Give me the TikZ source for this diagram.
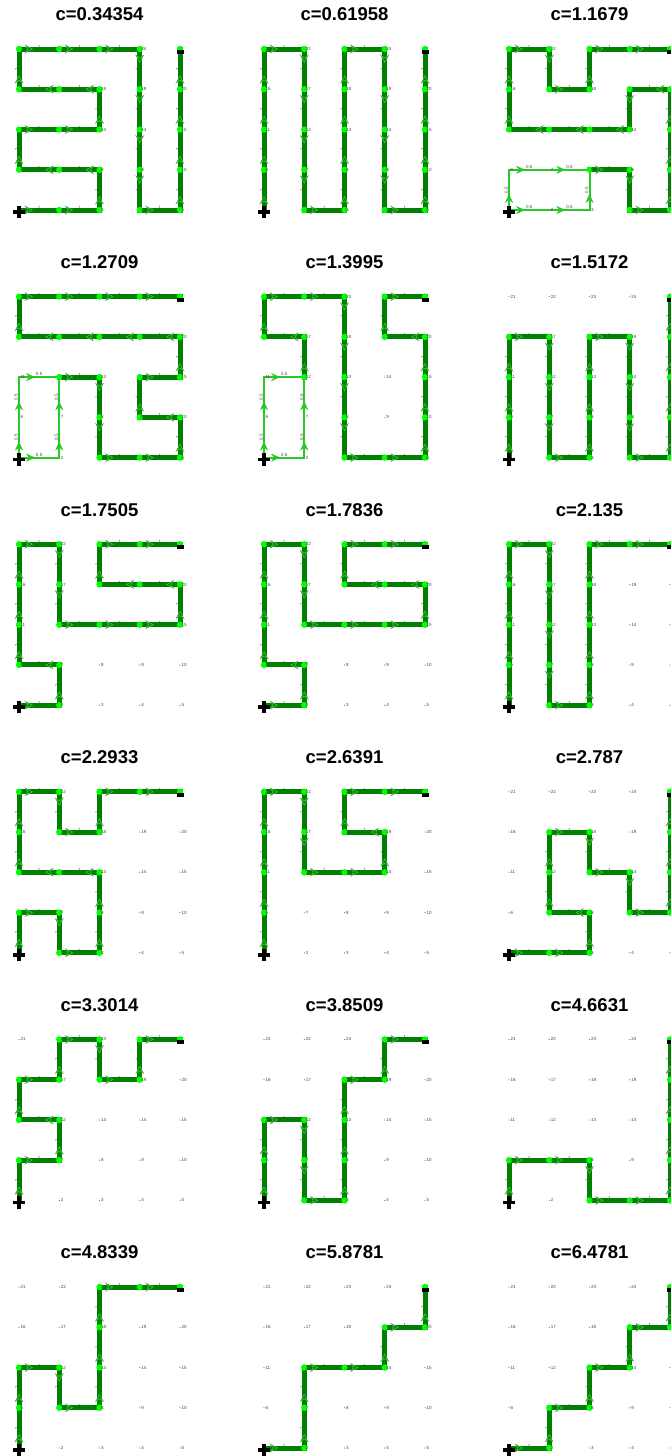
\documentclass[tikz,border=0pt]{standalone}
\usepackage{fontspec}
\setmainfont{Liberation Sans}
\usetikzlibrary{arrows.meta,decorations.markings}
\definecolor{PathDark}{RGB}{0,128,0}
\definecolor{PathHalf}{RGB}{40,200,40}
\definecolor{NodeLime}{RGB}{0,255,0}
\definecolor{TipEdge}{RGB}{60,190,60}
\definecolor{LabelGray}{RGB}{70,70,70}

% one 5x5 grid: #1 id, #2 column, #3 row, #4 title, #5 unit path, #6 half edges
\newcommand{\flowpanel}[6]{%
  \pgfmathsetmacro\panx{19+245*#2}
  \pgfmathsetmacro\pany{210+247.6*#3}
  \foreach \n in {1,...,25}{
    \pgfmathtruncatemacro\ci{mod(\n-1,5)}
    \pgfmathtruncatemacro\rj{div(\n-1,5)}
    \coordinate (g#1-\n) at (\panx+40.25*\ci, \pany-40.25*\rj);
    \fill[LabelGray!70] (g#1-\n) circle[radius=0.6pt];
  }
  % half flow
  \if\relax\detokenize{#6}\relax\else
  \foreach \a/\b in {#6}{
    \pgfmathtruncatemacro\dv{abs(\b-\a)==5}
    \draw[halfflow] (g#1-\a) -- node[elab, xshift=-2.8pt*\dv, yshift=2.8pt*(1-\dv), rotate=90*\dv] {0.5} (g#1-\b);
  }\fi
  % unit flow
  \foreach \b [count=\k, remember=\b as \a (initially 0)] in {#5}{
    \ifnum\k>1
      \pgfmathtruncatemacro\dv{abs(\b-\a)==5}
      \draw[unitflow] (g#1-\a) -- node[elab, xshift=-2.5pt*\dv, yshift=2pt*(1-\dv), rotate=90*\dv] {1} (g#1-\b);
    \fi
  }
  \foreach \b in {#5}{
    \ifnum\b>1 \fill[NodeLime] (g#1-\b) circle[radius=3.2pt]; \fi
  }
  % node numbers (the right column of the last grid lies outside the page)
  \foreach \n in {2,...,24}{
    \pgfmathtruncatemacro\hide{(#2==2)&&(mod(\n,5)==0)}
    \ifnum\hide=0 \node[nlab] (l#1-\n) at (g#1-\n) {\n}; \fi
  }
  % start and end marks
  \draw[line width=3.6pt] ([xshift=-6.2pt,yshift=-2pt]g#1-1) -- ([xshift=6.2pt,yshift=-2pt]g#1-1);
  \draw[line width=3.6pt] ([yshift=4.2pt]g#1-1) -- ([yshift=-8.2pt]g#1-1);
  \fill ([xshift=-3.5pt,yshift=-1pt]g#1-25) rectangle ([xshift=3.5pt,yshift=-5pt]g#1-25);
  \node[ptitle] (t#1) at (\panx+80.5, \pany-195.5) {#4};
}

\begin{document}
\begin{tikzpicture}[x=1pt, y=-1pt,
    unitflow/.style={draw=PathDark, line width=5pt, line cap=rect,
      postaction={decorate, decoration={markings, mark=at position 0.35 with
        {\arrow{Stealth[length=8.5pt,width=9pt,inset=3pt,line width=0.7pt,color=TipEdge,fill=PathDark]}}}}},
    halfflow/.style={draw=PathHalf, line width=2pt, line cap=rect,
      postaction={decorate, decoration={markings, mark=at position 0.4 with
        {\arrow{Stealth[length=9pt,width=8pt,inset=3pt,line width=0.4pt]}}}}},
    elab/.style={font=\fontsize{4.5}{5}\selectfont, text=LabelGray, inner sep=0pt},
    nlab/.style={font=\fontsize{4.5}{5}\selectfont, text=LabelGray, inner sep=0pt,
      anchor=west, xshift=1.3pt},
    ptitle/.style={font=\fontsize{18.5}{20}\selectfont\bfseries, inner sep=0pt},
  ]
  \useasboundingbox (0,0) rectangle (671,1456);
  \clip (0,0) rectangle (671,1456);

  % first row
  \flowpanel{1}{0}{0}{c=0.34354}{1,2,3,8,7,6,11,12,13,18,17,16,21,22,23,24,19,14,9,4,5,10,15,20,25}{}
  \flowpanel{2}{1}{0}{c=0.61958}{1,6,11,16,21,22,17,12,7,2,3,8,13,18,23,24,19,14,9,4,5,10,15,20,25}{}
  \flowpanel{3}{2}{0}{c=1.1679}{8,9,4,5,10,15,20,19,14,13,12,11,16,21,22,17,18,23,24,25}{1/2,2/3,3/8,1/6,6/7,7/8}

  % second row
  \flowpanel{4}{0}{1}{c=1.2709}{12,13,8,3,4,5,10,9,14,15,20,19,18,17,16,21,22,23,24,25}{1/2,2/7,7/12,1/6,6/11,11/12}
  \flowpanel{5}{1}{1}{c=1.3995}{12,17,16,21,22,23,18,13,8,3,4,5,10,15,20,19,24,25}{1/2,2/7,7/12,1/6,6/11,11/12}
  \flowpanel{6}{2}{1}{c=1.5172}{1,6,11,16,17,12,7,2,3,8,13,18,19,14,9,4,5,10,15,20,25}{}

  % third row
  \flowpanel{7}{0}{2}{c=1.7505}{1,2,7,6,11,16,21,22,17,12,13,14,15,20,19,18,23,24,25}{}
  \flowpanel{8}{1}{2}{c=1.7836}{1,2,7,6,11,16,21,22,17,12,13,14,15,20,19,18,23,24,25}{}
  \flowpanel{9}{2}{2}{c=2.135}{1,6,11,16,21,22,17,12,7,2,3,8,13,18,23,24,25}{}

  % fourth row
  \flowpanel{10}{0}{3}{c=2.2933}{1,6,7,2,3,8,13,12,11,16,21,22,17,18,23,24,25}{}
  \flowpanel{11}{1}{3}{c=2.6391}{1,6,11,16,21,22,17,12,13,14,19,18,23,24,25}{}
  \flowpanel{12}{2}{3}{c=2.787}{1,2,3,8,7,12,17,18,13,14,9,10,15,20,25}{}

  % fifth row
  \flowpanel{13}{0}{4}{c=3.3014}{1,6,7,12,11,16,17,22,23,18,19,24,25}{}
  \flowpanel{14}{1}{4}{c=3.8509}{1,6,11,12,7,2,3,8,13,18,19,24,25}{}
  \flowpanel{15}{2}{4}{c=4.6631}{1,6,7,8,3,4,5,10,15,20,25}{}

  % sixth row
  \flowpanel{16}{0}{5}{c=4.8339}{1,6,11,12,7,8,13,18,23,24,25}{}
  \flowpanel{17}{1}{5}{c=5.8781}{1,2,7,12,13,14,19,20,25}{}
  \flowpanel{18}{2}{5}{c=6.4781}{1,2,7,8,13,14,19,20,25}{}
\end{tikzpicture}
\end{document}
